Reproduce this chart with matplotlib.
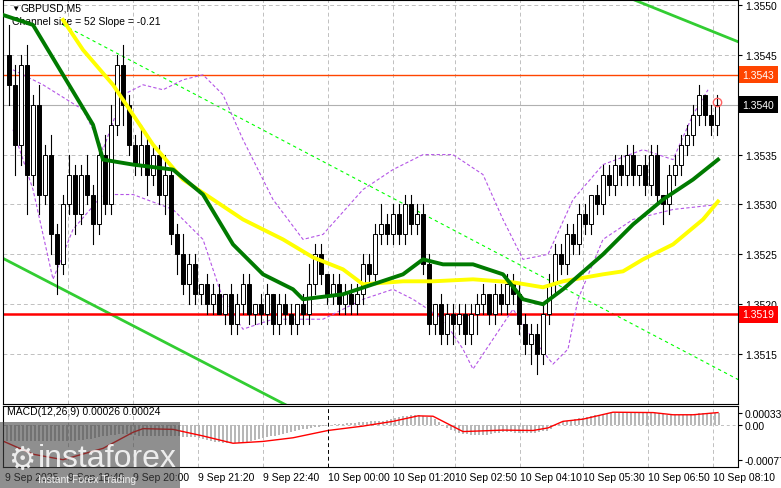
import numpy as np
import matplotlib
matplotlib.use("Agg")
import matplotlib.pyplot as plt
from matplotlib.patches import Rectangle

plt.rcParams["font.family"] = "Liberation Sans"

# ---- data (x in chart pixels, price = 1.35 + v/1e4) ----
closes = [42, 36, 44, 33, 40, 31, 35,
          27, 24, 30, 33,
          29, 33, 31, 28, 35, 30,
          38, 44, 40, 36,
          34, 36, 33, 35, 31, 33,
          27, 25, 22, 24,
          21, 22, 20, 21, 19, 21, 18, 20, 22, 19,
          20, 19, 21, 18, 20, 19, 18, 20, 19, 22,
          25, 23, 21, 22, 20, 21,
          20, 21, 24, 23, 27, 28, 27,
          29, 27, 30, 28, 29, 24,
          18, 20, 17, 19, 18, 19, 17, 19,
          20, 21, 19, 21, 20, 22, 21,
          18, 16, 17, 15, 19,
          22, 25, 24, 27, 26, 29,
          28, 31, 30, 33, 32, 34, 33, 35,
          33, 34, 32, 35, 31, 30, 33, 34,
          36, 37, 39, 41, 39, 38, 40]
up_wick = [3, 2, 1, 2, 1, 2, 1, 2, 1, 1, 2, 1, 1, 2, 1, 1, 2, 2, 1, 2,
           1, 1, 2, 1, 1, 1, 2, 1, 1, 2, 1, 1, 0, 1, 1, 1, 0, 1, 1, 1,
           1, 0, 1, 1, 0, 1, 1, 1, 0, 1, 2, 1, 1, 0, 1, 1, 1, 1, 1, 1,
           1, 1, 2, 1, 1, 1, 1, 1, 1, 1, 1, 0, 1, 1, 1, 1, 1, 1, 1, 1,
           0, 1, 1, 1, 1, 1, 1, 1, 1, 1, 1, 1, 1, 1, 1, 1, 1, 0, 1, 1,
           1, 1, 1, 1, 1, 0, 1, 1, 1, 0, 1, 1, 1, 1, 1, 1, 0, 1, 1]
dn_wick = [2, 3, 2, 4, 1, 2, 1, 2, 3, 1, 1, 2, 1, 1, 2, 1, 1, 1, 1, 2,
           1, 1, 1, 2, 1, 1, 2, 1, 2, 1, 2, 1, 1, 1, 1, 0, 1, 1, 1, 1,
           1, 1, 1, 1, 1, 1, 1, 1, 1, 1, 1, 1, 1, 1, 1, 1, 1, 1, 1, 1,
           1, 1, 1, 1, 1, 1, 1, 1, 1, 1, 1, 1, 1, 1, 2, 1, 1, 1, 2, 1,
           1, 1, 1, 1, 1, 1, 1, 2, 2, 1, 1, 1, 1, 1, 1, 1, 1, 1, 1, 1,
           1, 1, 1, 1, 1, 1, 1, 1, 1, 2, 1, 1, 1, 1, 1, 1, 1, 1, 1]
first_open = 45

# moving averages / envelopes as (x, price v) points
green_ma = [(0, 49), (30, 48), (60, 43), (90, 38), (100, 34.5), (130, 34), (170, 33.5),
            (200, 31), (230, 26), (260, 23), (290, 21.5), (300, 20.5), (340, 21), (370, 22),
            (400, 23), (420, 24.5), (440, 24), (470, 24), (500, 23), (520, 20.5), (540, 20),
            (560, 21.5), (600, 25), (630, 28), (660, 30.5), (690, 32.5), (715, 34.5)]
yellow_ma = [(60, 48.5), (80, 45.5), (110, 42), (150, 36), (180, 32.5), (210, 30.5),
             (240, 28.5), (280, 26.5), (310, 24.7), (340, 23.5), (360, 22), (400, 22.3),
             (430, 22.3), (470, 22.5), (510, 22.2), (540, 21.7), (560, 22.3), (600, 23),
             (620, 23.3), (640, 24.5), (670, 26), (700, 28.5), (715, 30.3)]
bb_upper = [(10, 43.5), (40, 42), (80, 39.5), (100, 35.5), (120, 41), (140, 42), (160, 41.5),
            (180, 42.5), (200, 43), (220, 41), (240, 36.5), (270, 30.5), (300, 26.5),
            (320, 27), (360, 31.5), (390, 33.5), (420, 35), (450, 35), (480, 33), (500, 28.5),
            (520, 24.5), (545, 25), (570, 30.5), (600, 34), (640, 35.5), (670, 34.5),
            (690, 39), (705, 41.5)]
bb_lower = [(10, 37.5), (30, 31.5), (50, 22.5), (70, 27.5), (100, 31), (130, 31), (170, 29.5),
            (200, 26.5), (220, 20.5), (240, 17.5), (270, 18.5), (300, 18.5), (320, 18.5),
            (360, 20.5), (390, 21.5), (410, 20.5), (440, 18.5), (460, 15.5), (470, 13.5),
            (490, 16.5), (510, 19.5), (530, 16.5), (550, 14), (565, 15.5), (575, 20.5),
            (600, 26.5), (630, 28.5), (670, 29.5), (715, 30)]
chan_upper = [(520, 55), (738, 46.2)]
chan_mid = [(60, 48), (738, 12.3)]
chan_lower = [(0, 24.6), (285, 9.8)]
levels = {"1.3543": 43, "1.3540": 40, "1.3519": 19}

# MACD in units of 1e-5
macd_hist = [(0, -45), (40, -45), (80, -42), (100, -30), (120, -25), (140, -30), (190, -32),
             (220, -50), (240, -48), (270, -30), (300, -12), (325, 0), (360, 8), (380, 12),
             (400, 25), (415, 28), (430, 20), (445, -10), (460, -25), (480, -28), (500, -20),
             (530, -22), (545, -15), (560, 10), (580, 20), (600, 30), (615, 35), (650, 35),
             (665, 28), (685, 28), (700, 33), (715, 33)]
macd_signal = [(0, -44), (30, -80), (60, -95), (100, -64), (130, -20), (140, -10), (170, -12),
               (200, -30), (230, -50), (260, -45), (290, -35), (325, -15), (360, -3),
               (390, 10), (415, 25), (430, 24), (460, -18), (500, -14), (530, -15),
               (545, -8), (560, 10), (580, 16), (610, 35), (650, 34), (670, 28), (690, 28),
               (715, 34)]

time_ticks = [2, 65, 130, 195, 260, 325, 390, 452, 517, 580, 645, 710]
time_labels = ["9 Sep 2025", "9 Sep 18:40", "9 Sep 20:00", "9 Sep 21:20", "9 Sep 22:40",
               "10 Sep 00:00", "10 Sep 01:20", "10 Sep 02:50", "10 Sep 04:10",
               "10 Sep 05:30", "10 Sep 06:50", "10 Sep 08:10"]
price_ticks = [15, 20, 25, 30, 35, 40, 45, 50]

W, H = 781, 489
fig = plt.figure(figsize=(W / 100, H / 100), dpi=100)
fig.patch.set_facecolor("white")
ax = fig.add_axes([3 / W, 84 / H, 735 / W, 404 / H])
mx = fig.add_axes([3 / W, 21 / H, 735 / W, 61 / H])

def pr(v):
    return 1.35 + np.asarray(v, float) / 1e4

def xy(pts):
    a = np.array(pts, float)
    return a[:, 0], pr(a[:, 1])

ax.set_xlim(0, 735)
ax.set_ylim(pr(10.0), pr(50.5))
for a in (ax, mx):
    a.set_facecolor("white")
    for s in a.spines.values():
        s.set_color("black"); s.set_linewidth(0.8)
    a.tick_params(left=False, labelleft=False, right=True, labelright=True,
                  bottom=False, labelbottom=False, labelsize=7.5, length=3, pad=2)
for a in (ax, mx):
    for x in time_ticks[1:]:
        if a is mx and x == 325:
            continue
        a.axvline(x, color="#c0c0c0", lw=0.7, ls=(0, (4, 3)), zorder=0)
for p in price_ticks:
    ax.axhline(pr(p), color="#c0c0c0", lw=0.7, ls=(0, (4, 3)), zorder=0)
ax.set_yticks(pr(price_ticks))
ax.set_yticklabels([f"{pr(p):.4f}" for p in price_ticks])

ax.plot(*xy(chan_mid), color="#00ff00", lw=0.8, ls=(0, (3, 3)), zorder=1)
ax.plot(*xy(chan_upper), color="#32cd32", lw=2, zorder=1)
ax.plot(*xy(chan_lower), color="#32cd32", lw=2, zorder=1)
ax.axhline(pr(levels["1.3543"]), color="#ff4500", lw=1, zorder=1)
ax.axhline(pr(levels["1.3540"]), color="#b0b0b0", lw=0.8, zorder=1)
ax.axhline(pr(levels["1.3519"]), color="red", lw=1.8, zorder=1)
ax.plot(*xy(bb_upper), color="#b455e6", lw=0.8, ls=(0, (3, 2)), zorder=2)
ax.plot(*xy(bb_lower), color="#b455e6", lw=0.8, ls=(0, (3, 2)), zorder=2)

# candles
xs = 6 + 6 * np.arange(len(closes))
opens = [first_open] + closes[:-1]
for x, o, c, u, d in zip(xs, opens, closes, up_wick, dn_wick):
    hi, lo = max(o, c) + u, min(o, c) - d
    ax.plot([x, x], pr([lo, hi]), color="black", lw=0.8, zorder=3)
    bot, top = min(o, c), max(o, c)
    if top - bot < 0.2:
        top = bot + 0.2
    ax.add_patch(Rectangle((x - 2, pr(bot)), 4, (top - bot) / 1e4,
                           facecolor="black" if c < o else "white",
                           edgecolor="black", lw=0.7, zorder=4))

ax.plot(*xy(yellow_ma), color="#ffff00", lw=2.8, zorder=5)
ax.plot(*xy(green_ma), color="#007a00", lw=2.8, zorder=5)
ax.plot([714], [pr(40.3)], marker="o", ms=6, mfc="none", mec="#ff6060", zorder=6)

tr = ax.get_yaxis_transform()
for txt, bg in [("1.3543", "#ff4500"), ("1.3540", "black"), ("1.3519", "red")]:
    ax.text(1.006, pr(levels[txt]), txt, transform=tr, fontsize=7.5, color="white",
            va="center", ha="left", zorder=7,
            bbox=dict(boxstyle="square,pad=0.35", fc=bg, ec="none"), clip_on=False)

ax.text(8, pr(49.7), "\u25bc", fontsize=6, va="center")
ax.text(18, pr(49.7), "GBPUSD,M5", fontsize=7.5, va="center")
ax.text(9, pr(48.4), "Channel size = 52 Slope = -0.21", fontsize=7.5, va="center")

# MACD
mx.set_xlim(0, 735)
mx.set_ylim(-115, 52)
hx = np.arange(4, 717, 4)
ha = np.array(macd_hist, float)
hv = np.interp(hx, ha[:, 0], ha[:, 1])
mx.bar(hx, hv, width=2.6, color="#b8b8b8", zorder=1)
sa = np.array(macd_signal, float)
mx.plot(sa[:, 0], sa[:, 1], color="red", lw=1, zorder=2)
mx.axhline(0, color="#c0c0c0", lw=0.7, ls=(0, (3, 3)), zorder=0)
mx.axvline(325, color="black", lw=0.7, ls=(0, (4, 3)))
mx.set_yticks([33, 0, -95])
mx.set_yticklabels(["0.00033", "0.00", "-0.00077"])
mx.text(4, 38, "MACD(12,26,9) 0.00026 0.00024", fontsize=7.5, va="center")
for x, lab in zip(time_ticks, time_labels):
    fig.text((3 + x) / W, 11 / H, lab, fontsize=7.5, ha="left", va="center")

# logo
fig.patches.append(Rectangle((0, 0), 180 / W, 66 / H, transform=fig.transFigure,
                             fc="#444444", alpha=0.6, ec="none", zorder=10))
fig.text(8 / W, 28 / H, "\u2699", fontsize=22, color="white", alpha=0.85, zorder=11,
         va="center", family="DejaVu Sans")
fig.text(38 / W, 30 / H, "instaforex", fontsize=23, color="white", alpha=0.85,
         zorder=11, va="center")
fig.text(38 / W, 9 / H, "Instant Forex Trading", fontsize=7.5, color="white", alpha=0.85,
         zorder=11, va="center")

fig.savefig("out.png", dpi=100)
